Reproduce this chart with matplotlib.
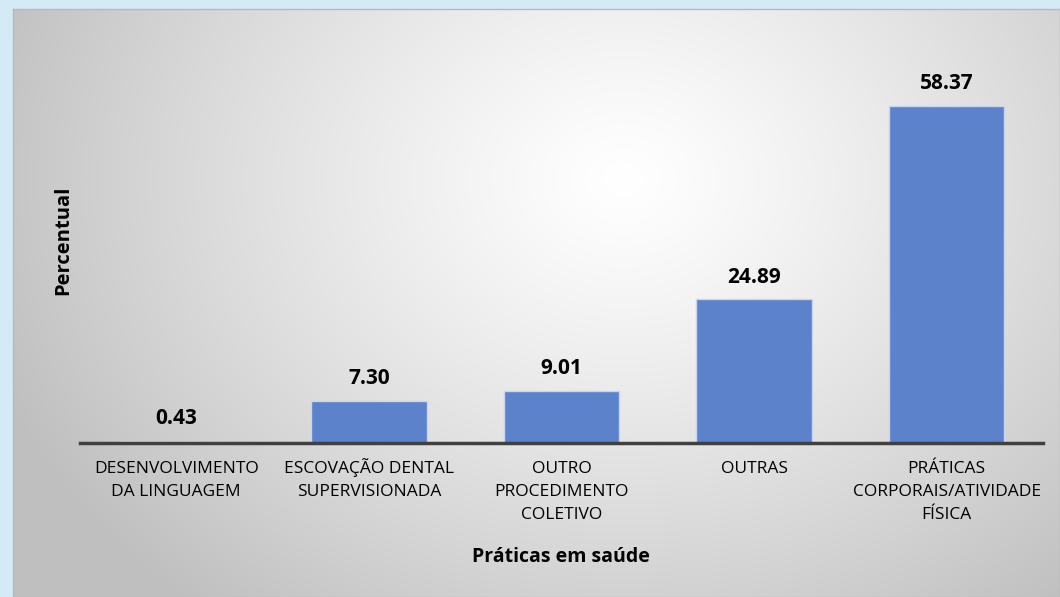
import numpy as np
import matplotlib.pyplot as plt
import matplotlib.transforms as mtrans

categorias = ['DESENVOLVIMENTO\nDA LINGUAGEM', 'ESCOVAÇÃO DENTAL\nSUPERVISIONADA',
              'OUTRO\nPROCEDIMENTO\nCOLETIVO', 'OUTRAS',
              'PRÁTICAS\nCORPORAIS/ATIVIDADE\nFÍSICA']
percentual = [0.43, 7.30, 9.01, 24.89, 58.37]

plt.rcParams['font.family'] = ['Open Sans', 'DejaVu Sans']

W, H = 1060, 597
fig = plt.figure(figsize=(W / 100, H / 100), dpi=100)
fig.patch.set_facecolor('#d4ebf5')

# painel com gradiente radial
bg = fig.add_axes([13 / W, 0, 1 - 13 / W, 1 - 9 / H], zorder=0)
yy, xx = np.mgrid[0:588, 0:1047]
d = np.sqrt(((xx - 610) * 0.95) ** 2 + ((yy - 170) * 1.15) ** 2)
g = 1.0 - 0.25 * np.clip(d / 640, 0, 1) ** 1.2
bg.imshow(np.dstack([g, g, g]), aspect='auto', extent=[0, 1, 0, 1], origin='upper')
bg.set_xticks([])
bg.set_yticks([])
for s in bg.spines.values():
    s.set_color('#b8b8b8')
    s.set_linewidth(1)

ax = fig.add_axes([80 / W, 1 - 443 / H, (1043 - 80) / W, (443 - 50) / H], zorder=1)
ax.patch.set_alpha(0)
x = np.arange(len(categorias))
ax.bar(x, percentual, width=0.6, color='#5b82ca', edgecolor='#c9d5ee', linewidth=1)
for xi, v in zip(x, percentual):
    ax.annotate('%.2f' % v, (xi, v), xytext=(0, 16), textcoords='offset points',
                ha='center', va='center', fontsize=15, fontweight='bold', color='#000000')

ax.set_xlim(-0.5, 4.5)
ax.set_ylim(0, 58.37 * (443 - 50) / 337)
ax.set_yticks([])
ax.set_xticks([])
# rótulos das categorias, linha a linha, alinhados pela linha de base
for xi, lab in zip(x, categorias):
    for i, linha in enumerate(lab.split('\n')):
        trans = mtrans.offset_copy(ax.get_xaxis_transform(), fig=fig, x=0,
                                   y=-21.8 - i * 16.6, units='points')
        ax.text(xi, 0, linha, transform=trans, ha='center', va='baseline',
                fontsize=12.5, color='#000000')
for side in ['top', 'right', 'left']:
    ax.spines[side].set_visible(False)
ax.spines['bottom'].set_color('#404040')
ax.spines['bottom'].set_linewidth(2.5)

fig.text(561 / W, 1 - 557 / H, 'Práticas em saúde', ha='center', va='center',
         fontsize=14, fontweight='bold')
fig.text(63 / W, 1 - 240 / H, 'Percentual', rotation=90, ha='center', va='center',
         fontsize=14.5, fontweight='bold')

fig.savefig('out.png', dpi=100)
